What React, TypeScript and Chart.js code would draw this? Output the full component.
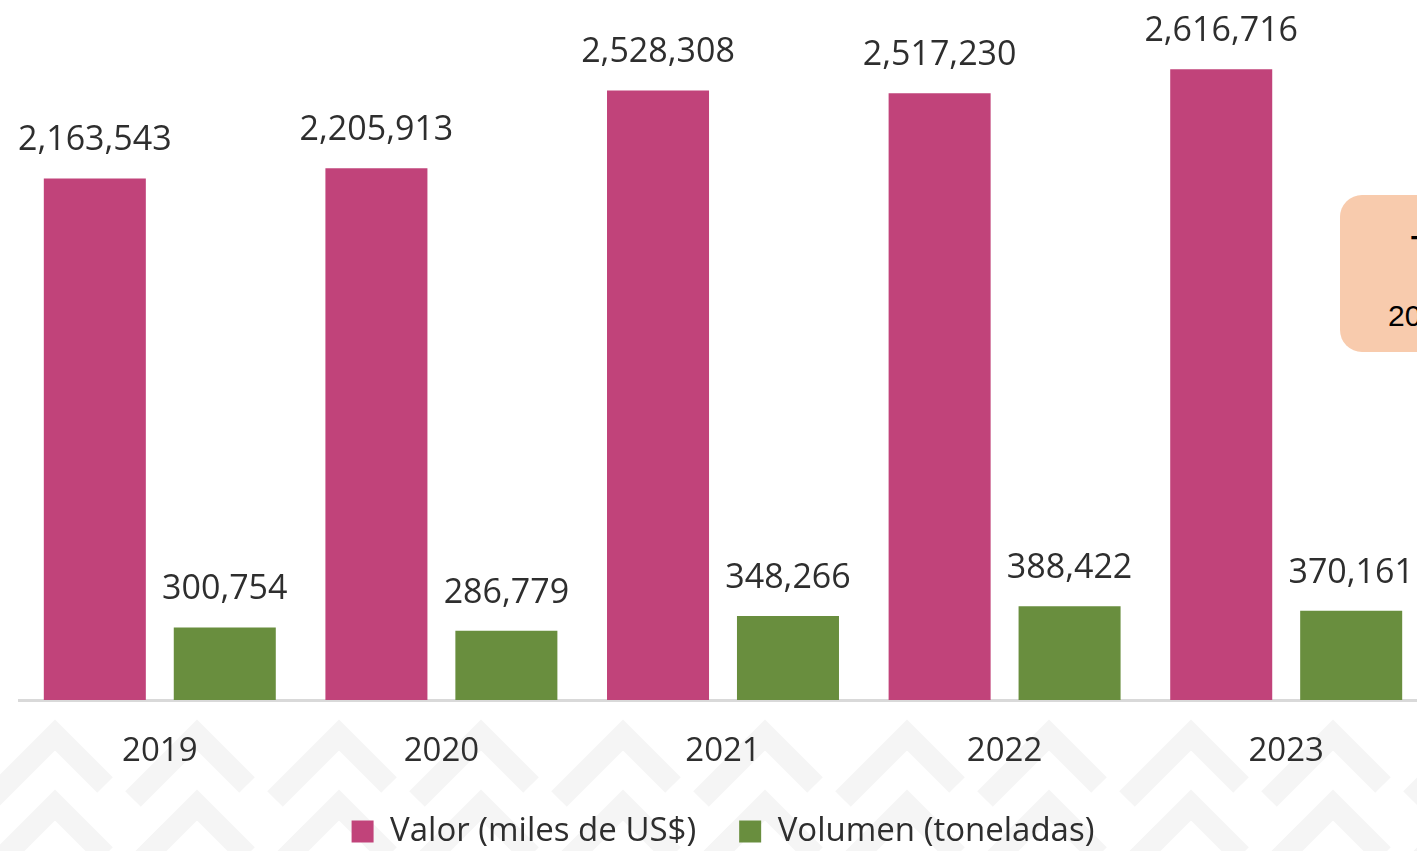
import React, { useEffect, useRef } from "react";
import { Chart, registerables } from "chart.js";

Chart.register(...registerables);

const years = ["2019", "2020", "2021", "2022", "2023"];
const valorMiles = [2163543, 2205913, 2528308, 2517230, 2616716];
const volumenTon = [300754, 286779, 348266, 388422, 370161];
const seriesNames = ["Valor (miles de US$)", "Volumen (toneladas)"];
const boxLines = ["TMCA", "2019-2023"];

const PINK = "#C1437A";
const GREEN = "#698E3E";
const TEXT = "#2e2e2e";
const FONT = '"Open Sans", "Noto Sans", sans-serif';

const fmt = (v: number) => v.toLocaleString("en-US");

const watermark = {
  id: "watermark",
  beforeDraw(chart: any) {
    const { ctx } = chart;
    ctx.save();
    ctx.beginPath();
    ctx.rect(0, 712, chart.width, chart.height - 712);
    ctx.clip();
    ctx.strokeStyle = "#f5f5f5";
    ctx.lineWidth = 22;
    ctx.lineJoin = "miter";
    ctx.lineCap = "butt";
    for (let x0 = 55 - 142 * 2; x0 < chart.width + 200; x0 += 142) {
      [735, 805].forEach((y) => {
        ctx.beginPath();
        ctx.moveTo(x0 - 64, y + 64);
        ctx.lineTo(x0, y);
        ctx.lineTo(x0 + 50, y + 50);
        ctx.stroke();
      });
    }
    ctx.restore();
  },
};

const valueLabels = {
  id: "valueLabels",
  afterDatasetsDraw(chart: any) {
    const { ctx } = chart;
    ctx.save();
    ctx.font = `34px ${FONT}`;
    ctx.fillStyle = TEXT;
    ctx.textAlign = "center";
    ctx.textBaseline = "alphabetic";
    chart.data.datasets.forEach((ds: any, i: number) => {
      const meta = chart.getDatasetMeta(i);
      meta.data.forEach((bar: any, j: number) => {
        ctx.fillText(fmt(ds.data[j]), bar.x, bar.y - 28);
      });
    });
    ctx.restore();
  },
};

function BarChart() {
  const ref = useRef<HTMLCanvasElement | null>(null);
  useEffect(() => {
    if (!ref.current) return;
    const chart = new Chart(ref.current, {
      type: "bar",
      data: {
        labels: years,
        datasets: [
          {
            label: seriesNames[0],
            data: valorMiles,
            backgroundColor: PINK,
            borderWidth: 0,
            categoryPercentage: 0.923,
            barPercentage: 0.785,
          },
          {
            label: seriesNames[1],
            data: volumenTon,
            backgroundColor: GREEN,
            borderWidth: 0,
            categoryPercentage: 0.923,
            barPercentage: 0.785,
          },
        ],
      },
      options: {
        responsive: false,
        animation: false,
        devicePixelRatio: 1,
        layout: { padding: { left: 19, right: 33, top: 25, bottom: 0 } },
        scales: {
          x: {
            grid: { display: false, drawTicks: false },
            border: { display: true, color: "#d9d9d9", width: 3 },
            ticks: {
              padding: 32,
              color: TEXT,
              font: { family: FONT, size: 33 },
            },
            afterFit(scale: any) {
              scale.height = 72;
            },
          },
          y: {
            display: false,
            min: 0,
            max: 2800000,
          },
        },
        plugins: {
          legend: {
            position: "bottom",
            labels: {
              boxWidth: 22,
              boxHeight: 22,
              padding: 43,
              color: TEXT,
              font: { family: FONT, size: 33 },
            },
          },
          tooltip: { enabled: false },
        },
      },
      plugins: [watermark, valueLabels],
    });
    return () => chart.destroy();
  }, []);

  return (
    <div
      style={{
        position: "fixed",
        left: 0,
        top: 0,
        width: 1417,
        height: 851,
        overflow: "hidden",
        background: "#ffffff",
      }}
    >
      <canvas
        ref={ref}
        width={1460}
        height={858}
        style={{ position: "absolute", left: 0, top: 0 }}
      />
      <div
        style={{
          position: "absolute",
          left: 1340,
          top: 195,
          width: 230,
          height: 157,
          borderRadius: 22,
          background: "#F8CBAD",
          fontFamily: '"Liberation Sans", Arial, sans-serif',
          color: "#000",
        }}
      >
        <span
          style={{
            position: "absolute",
            left: 71,
            top: 36,
            fontSize: 30,
            lineHeight: "30px",
            fontWeight: "bold",
            whiteSpace: "nowrap",
          }}
        >
          {boxLines[0]}
        </span>
        <span
          style={{
            position: "absolute",
            left: 48,
            top: 106,
            fontSize: 30,
            lineHeight: "30px",
            whiteSpace: "nowrap",
          }}
        >
          {boxLines[1]}
        </span>
      </div>
    </div>
  );
}

export default function App() {
  return <BarChart />;
}
